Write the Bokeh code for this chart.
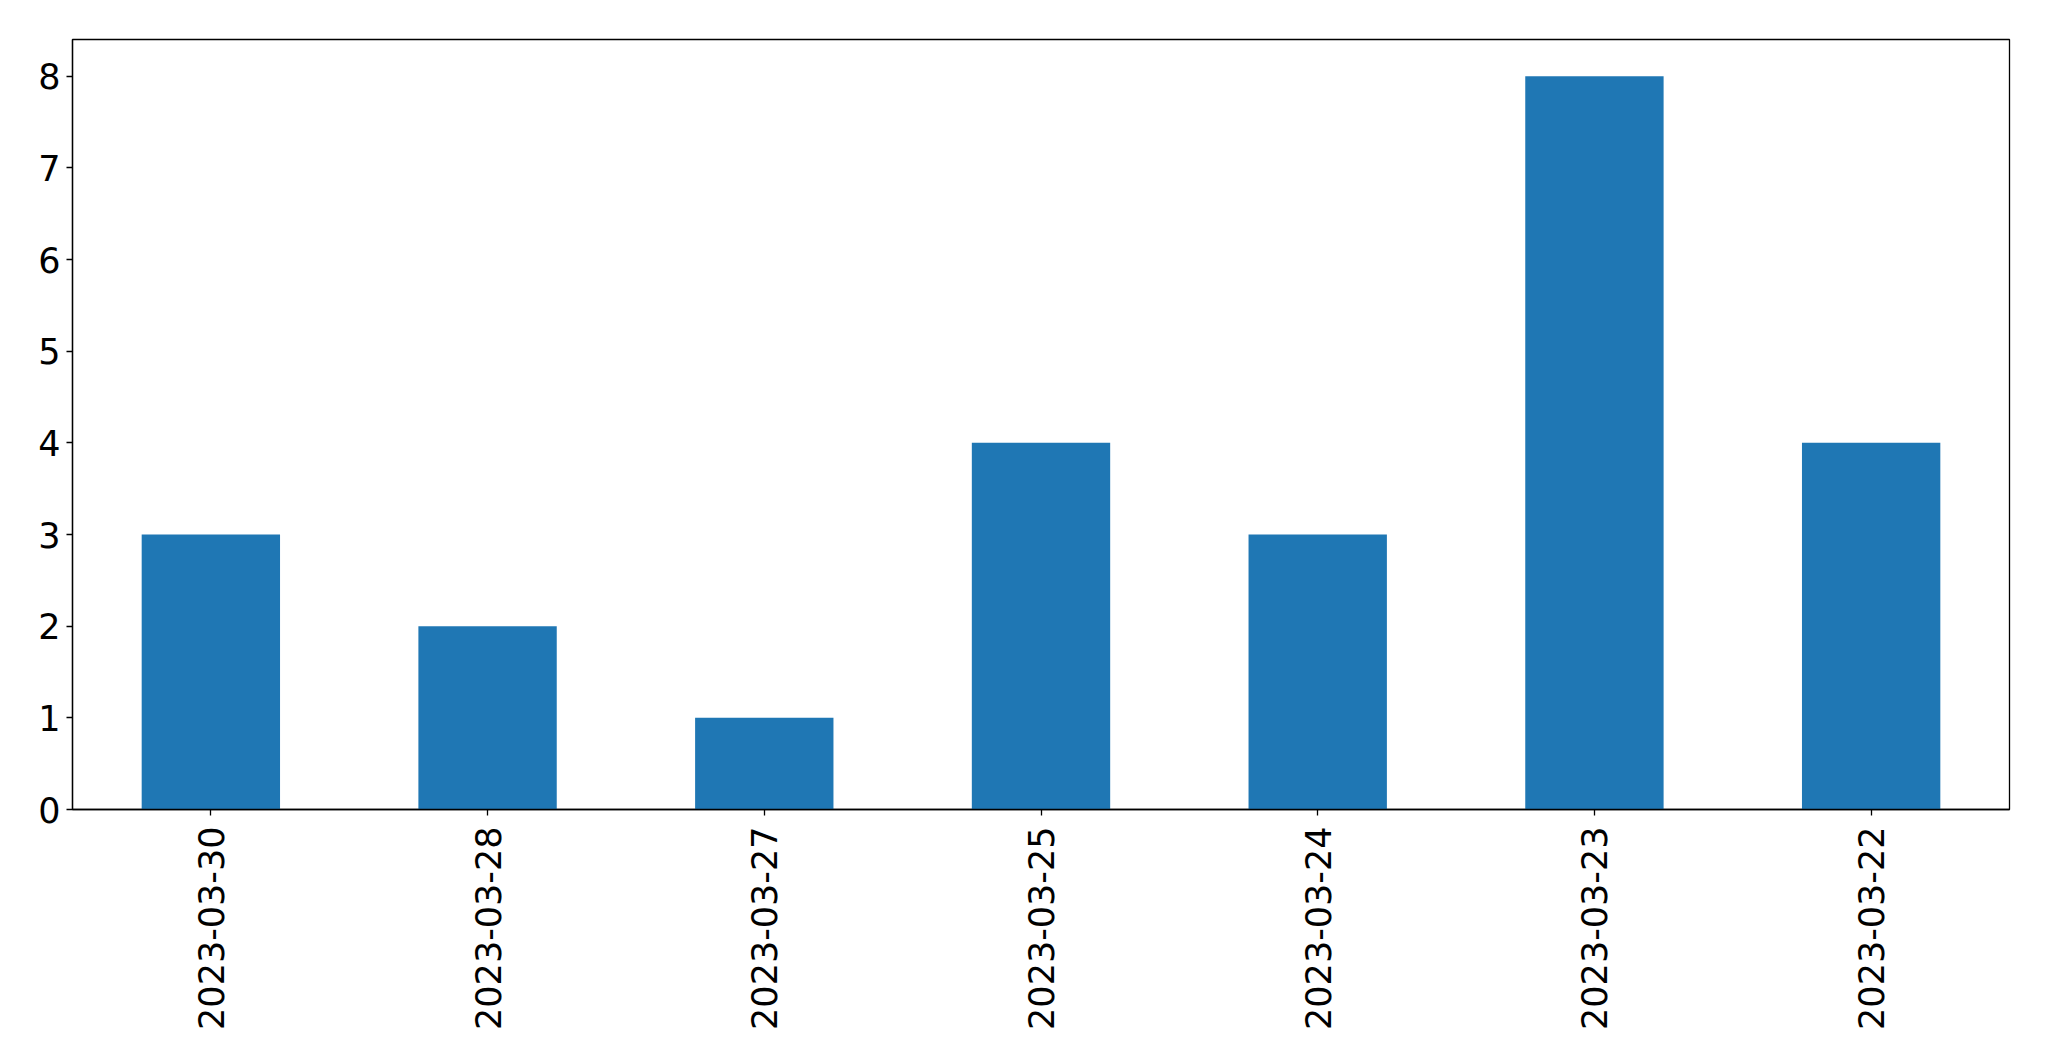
import math
from bokeh.plotting import figure
from bokeh.models import ColumnDataSource, SingleIntervalTicker, Range1d, FactorRange
from bokeh.embed import file_html
from bokeh.resources import INLINE

dates = ["2023-03-30", "2023-03-28", "2023-03-27", "2023-03-25", "2023-03-24", "2023-03-23", "2023-03-22"]
counts = [3, 2, 1, 4, 3, 8, 4]

source = ColumnDataSource(data=dict(dates=dates, counts=counts))

p = figure(
    width=2041, height=1053,
    x_range=FactorRange(factors=dates, range_padding=0),
    y_range=Range1d(0, 8.4),
    output_backend="svg", toolbar_location=None,
    min_border_left=72, min_border_top=39, min_border_right=32, min_border_bottom=244,
)
p.vbar(x="dates", top="counts", bottom=0, width=0.5, source=source,
       fill_color="#1f77b4", line_color=None)

p.xgrid.visible = False
p.ygrid.visible = False
p.outline_line_color = "black"
p.outline_line_width = 1.3
p.outline_line_alpha = 1

for ax in (p.xaxis[0], p.yaxis[0]):
    ax.axis_line_color = "black"
    ax.axis_line_width = 1.3
    ax.major_tick_line_color = "black"
    ax.major_tick_line_width = 1.3
    ax.major_tick_out = 6
    ax.major_tick_in = 0
    ax.minor_tick_line_color = None
    ax.major_label_text_font = "DejaVu Sans"
    ax.major_label_text_font_size = "35px"
    ax.major_label_text_color = "black"

p.yaxis.ticker = SingleIntervalTicker(interval=1)
p.yaxis.major_label_standoff = 6
p.xaxis.major_label_orientation = math.pi / 2
p.xaxis.major_label_standoff = 11

open("out.html", "w").write(file_html(p, INLINE))
